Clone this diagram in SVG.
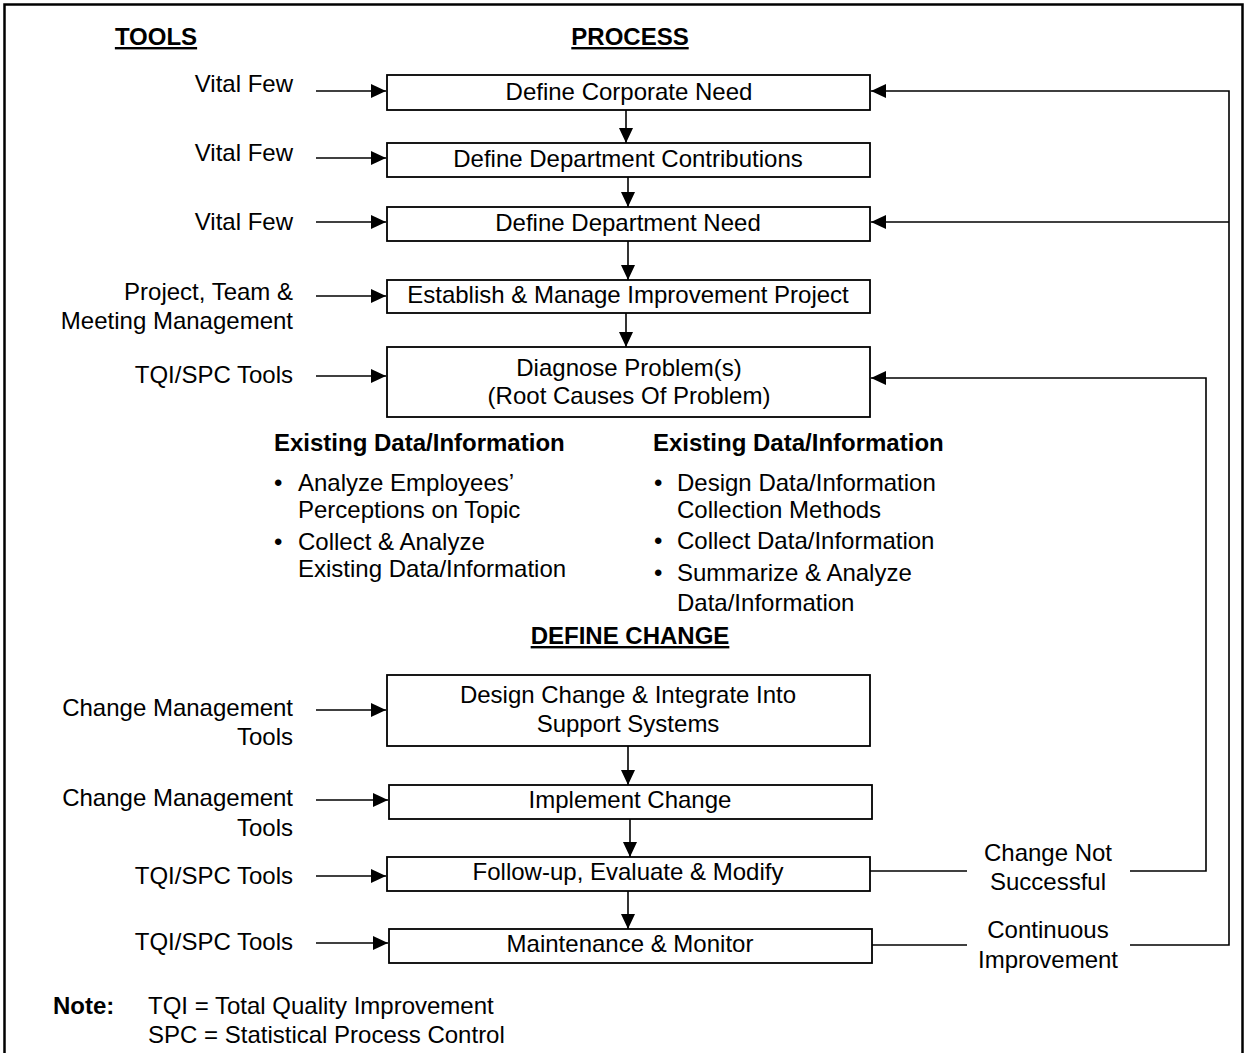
<svg xmlns="http://www.w3.org/2000/svg" width="1246" height="1053" viewBox="0 0 1246 1053">
<style>
text{font-family:"Liberation Sans",Arial,sans-serif;font-size:24px;fill:#000}
.b{font-weight:bold}
.u{text-decoration:underline}
.c{text-anchor:middle}
.r{text-anchor:end}
.n{font-size:24px}
.box{fill:#fff;stroke:#000;stroke-width:1.8}
.ln{fill:none;stroke:#000;stroke-width:1.6}
</style>
<defs>
<marker id="ah" markerUnits="userSpaceOnUse" markerWidth="16" markerHeight="14" refX="15" refY="7" orient="auto">
<path d="M0,0 L15,7 L0,14 z" fill="#000"/>
</marker>
</defs>
<rect x="4.5" y="4.5" width="1238" height="1070" fill="#fff" stroke="#000" stroke-width="2.5"/>

<g id="headings">
<text class="b u c" x="156" y="45">TOOLS</text>
<text class="b u c" x="630" y="45">PROCESS</text>
<text class="b u c" x="630" y="644">DEFINE CHANGE</text>
</g>

<g id="tools">
<text class="r" x="293" y="92">Vital Few</text>
<text class="r" x="293" y="161">Vital Few</text>
<text class="r" x="293" y="230">Vital Few</text>
<text class="r" x="293" y="300">Project, Team &amp;</text>
<text class="r" x="293" y="329">Meeting Management</text>
<text class="r" x="293" y="383">TQI/SPC Tools</text>
<text class="r" x="293" y="716">Change Management</text>
<text class="r" x="293" y="745">Tools</text>
<text class="r" x="293" y="806">Change Management</text>
<text class="r" x="293" y="836">Tools</text>
<text class="r" x="293" y="884">TQI/SPC Tools</text>
<text class="r" x="293" y="950">TQI/SPC Tools</text>
</g>

<g id="n1"><rect class="box" x="387" y="75" width="483" height="35"/><text class="c" x="629" y="100">Define Corporate Need</text></g>
<g id="n2"><rect class="box" x="387" y="143" width="483" height="34"/><text class="c" x="628" y="167">Define Department Contributions</text></g>
<g id="n3"><rect class="box" x="387" y="207" width="483" height="34"/><text class="c" x="628" y="231">Define Department Need</text></g>
<g id="n4"><rect class="box" x="387" y="280" width="483" height="33"/><text class="c" x="628" y="303">Establish &amp; Manage Improvement Project</text></g>
<g id="n5"><rect class="box" x="387" y="347" width="483" height="70"/><text class="c" x="629" y="376">Diagnose Problem(s)</text><text class="c" x="629" y="404">(Root Causes Of Problem)</text></g>

<g id="data-left">
<text class="b" x="274" y="451">Existing Data/Information</text>
<text x="274" y="491">•</text><text x="298" y="491">Analyze Employees’</text>
<text x="298" y="518">Perceptions on Topic</text>
<text x="274" y="550">•</text><text x="298" y="550">Collect &amp; Analyze</text>
<text x="298" y="577">Existing Data/Information</text>
</g>
<g id="data-right">
<text class="b" x="653" y="451">Existing Data/Information</text>
<text x="654" y="491">•</text><text x="677" y="491">Design Data/Information</text>
<text x="677" y="518">Collection Methods</text>
<text x="654" y="549">•</text><text x="677" y="549">Collect Data/Information</text>
<text x="654" y="581">•</text><text x="677" y="581">Summarize &amp; Analyze</text>
<text x="677" y="611">Data/Information</text>
</g>

<g id="n6"><rect class="box" x="387" y="675" width="483" height="71"/><text class="c" x="628" y="703">Design Change &amp; Integrate Into</text><text class="c" x="628" y="732">Support Systems</text></g>
<g id="n7"><rect class="box" x="389" y="785" width="483" height="34"/><text class="c" x="630" y="808">Implement Change</text></g>
<g id="n8"><rect class="box" x="387" y="857" width="483" height="34"/><text class="c" x="628" y="880">Follow-up, Evaluate &amp; Modify</text></g>
<g id="n9"><rect class="box" x="389" y="929" width="483" height="34"/><text class="c" x="630" y="952">Maintenance &amp; Monitor</text></g>

<g id="feedback-labels">
<text class="c" x="1048" y="861">Change Not</text>
<text class="c" x="1048" y="890">Successful</text>
<text class="c" x="1048" y="938">Continuous</text>
<text class="c" x="1048" y="968">Improvement</text>
</g>

<g id="note">
<text class="b n" x="53" y="1014">Note:</text>
<text class="n" x="148" y="1014">TQI = Total Quality Improvement</text>
<text class="n" x="148" y="1043">SPC = Statistical Process Control</text>
</g>

<g id="connectors">
<line class="ln" x1="316" y1="91" x2="386" y2="91" marker-end="url(#ah)"/>
<line class="ln" x1="316" y1="158" x2="386" y2="158" marker-end="url(#ah)"/>
<line class="ln" x1="316" y1="222" x2="386" y2="222" marker-end="url(#ah)"/>
<line class="ln" x1="316" y1="296" x2="386" y2="296" marker-end="url(#ah)"/>
<line class="ln" x1="316" y1="376" x2="386" y2="376" marker-end="url(#ah)"/>
<line class="ln" x1="316" y1="710" x2="386" y2="710" marker-end="url(#ah)"/>
<line class="ln" x1="316" y1="800" x2="388" y2="800" marker-end="url(#ah)"/>
<line class="ln" x1="316" y1="876" x2="386" y2="876" marker-end="url(#ah)"/>
<line class="ln" x1="316" y1="943" x2="388" y2="943" marker-end="url(#ah)"/>

<line class="ln" x1="626" y1="110" x2="626" y2="143" marker-end="url(#ah)"/>
<line class="ln" x1="628" y1="177" x2="628" y2="207" marker-end="url(#ah)"/>
<line class="ln" x1="628" y1="241" x2="628" y2="280" marker-end="url(#ah)"/>
<line class="ln" x1="626" y1="313" x2="626" y2="347" marker-end="url(#ah)"/>
<line class="ln" x1="628" y1="746" x2="628" y2="785" marker-end="url(#ah)"/>
<line class="ln" x1="630" y1="819" x2="630" y2="857" marker-end="url(#ah)"/>
<line class="ln" x1="628" y1="891" x2="628" y2="929" marker-end="url(#ah)"/>

<line class="ln" x1="870" y1="871" x2="967" y2="871"/>
<path class="ln" d="M1130,871 H1206 V378 H871" marker-end="url(#ah)"/>
<line class="ln" x1="872" y1="945" x2="967" y2="945"/>
<path class="ln" d="M1130,945 H1229 V91 H871" marker-end="url(#ah)"/>
<line class="ln" x1="1229" y1="222" x2="871" y2="222" marker-end="url(#ah)"/>
</g>
</svg>
